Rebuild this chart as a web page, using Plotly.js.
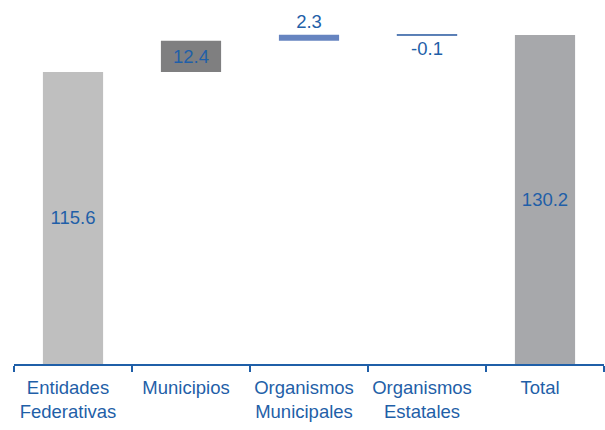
<!DOCTYPE html>
<html>
<head>
<meta charset="utf-8">
<script src="https://cdn.plot.ly/plotly-3.0.1.min.js"></script>
<style>html,body{margin:0;padding:0;background:#fff;}#chart{width:605px;height:430px;}</style>
</head>
<body>
<div id="chart"></div>
<script>
const categories = ["Entidades<br>Federativas", "Municipios", "Organismos<br>Municipales", "Organismos<br>Estatales", "Total"];
const values = [115.6, 12.4, 2.3, -0.1, 130.2];
const labels = ["115.6", "12.4", "2.3", "-0.1", "130.2"];
const measures = ["absolute", "relative", "relative", "relative", "total"];
const colors = ["#bfbfbf", "#7f7f80", "#6684c0", "#ffffff", "#a7a8ab"];
const lineColors = ["#bfbfbf", "#7f7f80", "#6684c0", "#2a5aa0", "#a7a8ab"];
const textPos = ["inside", "inside", "outside", "outside", "inside"];

// build bases from cumulative sums
let running = 0;
const bases = [], heights = [];
measures.forEach((m, i) => {
  if (m === "absolute") { bases.push(0); heights.push(values[i]); running = values[i]; }
  else if (m === "relative") { bases.push(running); heights.push(values[i]); running += values[i]; }
  else { bases.push(0); heights.push(values[i]); }
});

const textColor = "#1f5fa8";
const trace = {
  type: "bar",
  x: categories,
  y: heights,
  base: bases,
  width: 0.51,
  marker: { color: colors, line: { color: lineColors, width: [0, 0, 0, 1, 0] } },
  text: labels,
  textposition: textPos,
  insidetextanchor: "middle",
  constraintext: "none",
  cliponaxis: false,
  textfont: { family: "Liberation Sans, Arial, sans-serif", size: 18.5, color: textColor },
  hoverinfo: "none"
};

const layout = {
  width: 605, height: 430,
  margin: { l: 14, r: 1, t: 0, b: 66 },
  paper_bgcolor: "#ffffff", plot_bgcolor: "#ffffff",
  showlegend: false,
  font: { family: "Liberation Sans, Arial, sans-serif", color: textColor, size: 18 },
  xaxis: {
    type: "category",
    showline: true, linecolor: "#1f5fa8", linewidth: 2,
    ticks: "outside", tickson: "boundaries", ticklen: 6, tickwidth: 2, tickcolor: "#1f5fa8",
    ticklabelstandoff: 6,
    ticklabelshift: -5,
    showgrid: false, zeroline: false,
    tickfont: { family: "Liberation Sans, Arial, sans-serif", size: 18.5, color: textColor },
    fixedrange: true
  },
  yaxis: { visible: false, range: [0, 144.1], fixedrange: true }
};

Plotly.newPlot("chart", [trace], layout, { staticPlot: true, displayModeBar: false });
</script>
</body>
</html>
